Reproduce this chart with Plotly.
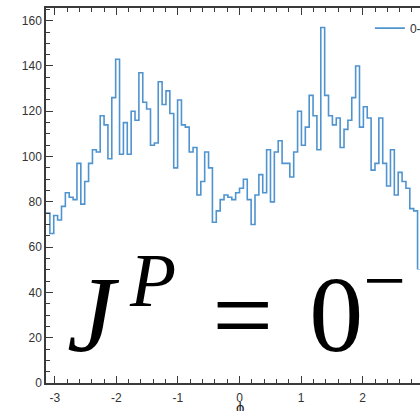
import numpy as np
import plotly.graph_objects as go

# Histogram of phi, 100 equal bins over [-pi, pi]; the view stops near phi = 2.93
n_bins = 100
counts = [
    75, 66, 74, 72, 78, 84, 82, 81, 97, 79,
    89, 97, 103, 102, 118, 114, 99, 126, 143, 101,
    115, 101, 120, 116, 137, 124, 121, 105, 106, 133,
    123, 129, 119, 95, 125, 114, 113, 102, 104, 83,
    89, 102, 95, 71, 76, 81, 83, 82, 81, 84,
    86, 90, 81, 70, 83, 92, 84, 103, 80, 102,
    107, 97, 97, 91, 102, 120, 105, 113, 127, 118,
    103, 157, 127, 118, 114, 117, 104, 112, 116, 126,
    140, 113, 122, 117, 94, 97, 117, 97, 87, 103,
    83, 93, 89, 86, 77, 76, 50,
]
series_name = "0-"
x_title = "ϕ"
x_tick_vals = [-3, -2, -1, 0, 1, 2]
x_tick_text = ["-3", "-2", "-1", "0", "1", "2"]
y_tick_vals = [0, 20, 40, 60, 80, 100, 120, 140, 160]
y_tick_text = ["0", "20", "40", "60", "80", "100", "120", "140", "160"]

bin_width = 2 * np.pi / n_bins
edges = -np.pi + bin_width * np.arange(len(counts) + 1)
step_y = counts + [counts[-1]]

axis_col = "#3a3a3a"
line_col = "#4f93cf"
tick_font = dict(family="Liberation Sans, Arial, sans-serif", size=12, color="#333333")

fig = go.Figure()
fig.add_trace(go.Scatter(
    x=edges, y=step_y, mode="lines", line_shape="hv",
    line=dict(color=line_col, width=1.6), name=series_name, showlegend=True,
))

fig.update_layout(
    width=420, height=411,
    margin=dict(l=46, r=0, t=8, b=28, autoexpand=False),
    paper_bgcolor="white", plot_bgcolor="white",
    showlegend=True,
    legend=dict(x=0.866, y=0.985, xanchor="left", yanchor="top",
                bgcolor="rgba(0,0,0,0)", font=dict(family="Liberation Sans, Arial, sans-serif",
                                                    size=12, color="#333333")),
    xaxis=dict(
        range=[-np.pi, 2.93], showgrid=False, zeroline=False, automargin=False,
        showline=True, linecolor=axis_col, linewidth=1.5, mirror="ticks",
        tickmode="array", tickvals=x_tick_vals, ticktext=x_tick_text,
        ticks="inside", ticklen=7, tickwidth=1.2, tickcolor=axis_col,
        tickfont=tick_font, ticklabelstandoff=3,
        minor=dict(tickmode="linear", tick0=0, dtick=0.2, ticks="inside",
                   ticklen=4, tickwidth=1, tickcolor=axis_col),
    ),
    yaxis=dict(
        range=[0, 165.6], showgrid=False, zeroline=False, automargin=False,
        showline=True, linecolor=axis_col, linewidth=1.5, mirror=False,
        tickmode="array", tickvals=y_tick_vals, ticktext=y_tick_text,
        ticks="inside", ticklen=7, tickwidth=1.2, tickcolor=axis_col,
        tickfont=tick_font,
        minor=dict(tickmode="linear", tick0=0, dtick=5, ticks="inside",
                   ticklen=4, tickwidth=1, tickcolor=axis_col),
    ),
)

# x-axis title sits low, partly beyond the bottom edge of the page
fig.add_annotation(
    xref="x", yref="paper", x=0, y=-0.036, xanchor="center", yanchor="top",
    text=x_title, showarrow=False,
    font=dict(family="Liberation Sans, Arial, sans-serif", size=15, color="#222222"),
)

# White panel behind the spin-parity label
fig.add_shape(type="rect", xref="paper", yref="paper",
              x0=0.024, x1=1.0, y0=0.03, y1=0.303,
              fillcolor="white", line=dict(width=0), layer="above")

fig.add_annotation(
    xref="paper", yref="paper", x=0.51, y=0.203, xanchor="center", yanchor="middle",
    text="<i>J</i><sup>\u2009<i>P</i></sup>\u00a0\u200a=\u00a0\u200a0<sup>\u2212</sup>",
    showarrow=False,
    font=dict(family="Liberation Serif, DejaVu Serif, serif", size=108, color="black"),
)

fig.write_html("out.html")
